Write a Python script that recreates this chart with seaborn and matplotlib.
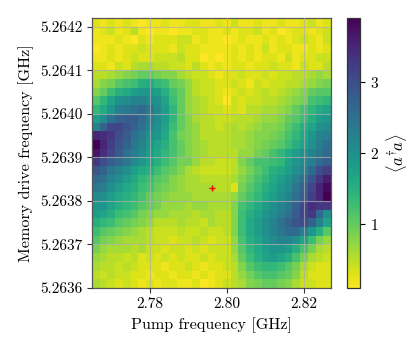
import numpy as np
import matplotlib
matplotlib.use("Agg")
import matplotlib.pyplot as plt
import seaborn as sns

# grid of the scan (cell centres, GHz)
pump_freq = np.round(np.linspace(2.766, 2.826, 31), 4)
drive_freq = np.round(np.linspace(5.26421, 5.26361, 31), 6)  # top row first

# photon number <a^dagger a>, rows from top (high drive freq) to bottom
n_photons = [
    [0.3,0.2,0.3,0.2,0.3,0.2,0.1,0.2,0.2,0.3,0.2,0.2,0.3,0.3,0.2,0.2,0.3,0.2,0.4,0.2,0.2,0.3,0.2,0.2,0.3,0.2,0.2,0.3,0.4,0.2,0.3],
    [0.2,0.3,0.4,0.2,0.3,0.5,0.2,0.1,0.2,0.2,0.1,0.2,0.2,0.3,0.3,0.2,0.2,0.3,0.2,0.3,0.3,0.4,0.2,0.3,0.1,0.2,0.3,0.3,0.2,0.3,0.4],
    [0.2,0.2,0.2,0.3,0.2,0.1,0.3,0.2,0.3,0.3,0.3,0.4,0.4,0.2,0.3,0.2,0.2,0.1,0.2,0.3,0.2,0.2,0.3,0.2,0.3,0.2,0.3,0.4,0.3,0.2,0.4],
    [0.1,0.2,0.3,0.2,0.3,0.3,0.4,0.3,0.3,0.3,0.2,0.4,0.3,0.3,0.2,0.2,0.2,0.2,0.3,0.2,0.3,0.2,0.4,0.2,0.3,0.3,0.2,0.2,0.3,0.2,0.3],
    [0.2,0.2,0.3,0.2,0.3,0.4,0.3,0.3,0.4,0.4,0.4,0.5,0.3,0.3,0.1,0.2,0.1,0.2,0.3,0.2,0.3,0.2,0.3,0.3,0.2,0.4,0.2,0.3,0.3,0.4,0.4],
    [0.3,0.3,0.2,0.4,0.3,0.5,0.6,0.6,0.5,0.5,0.4,0.4,0.3,0.5,0.3,0.2,0.3,0.2,0.3,0.3,0.2,0.3,0.3,0.4,0.3,0.3,0.2,0.4,0.3,0.3,0.5],
    [0.5,0.5,0.6,0.7,0.8,0.9,1.0,1.0,0.9,0.8,0.8,0.6,0.5,0.4,0.4,0.3,0.2,0.3,0.3,0.4,0.3,0.3,0.4,0.3,0.4,0.4,0.5,0.5,0.6,0.7,0.6],
    [0.6,0.8,0.9,1.1,1.2,1.3,1.5,1.6,1.4,1.3,1.0,0.9,0.7,0.5,0.4,0.4,0.3,0.3,0.4,0.3,0.2,0.4,0.3,0.4,0.4,0.5,0.5,0.6,0.7,0.8,0.9],
    [0.8,1.0,1.3,1.5,1.6,1.8,1.9,1.9,1.8,1.5,1.2,1.0,0.7,0.5,0.4,0.4,0.3,0.2,0.3,0.4,0.3,0.4,0.5,0.4,0.5,0.6,0.7,0.8,1.0,1.1,1.1],
    [1.1,1.4,1.7,2.0,2.1,2.2,2.2,2.1,2.0,1.7,1.3,1.0,0.7,0.6,0.5,0.4,0.3,0.1,0.4,0.3,0.4,0.4,0.5,0.5,0.6,0.7,0.8,0.9,1.2,1.3,1.4],
    [1.4,1.6,1.9,2.3,2.4,2.5,2.6,2.4,2.1,1.8,1.4,1.0,0.7,0.6,0.5,0.4,0.4,0.3,0.4,0.3,0.5,0.5,0.6,0.6,0.7,0.8,1.0,1.2,1.4,1.6,1.7],
    [1.8,2.1,2.5,2.7,2.8,2.8,2.6,2.3,2.1,1.8,1.4,1.0,0.8,0.6,0.5,0.5,0.4,0.4,0.5,0.5,0.5,0.6,0.7,0.7,0.8,1.0,1.1,1.3,1.5,1.8,1.9],
    [2.2,2.7,3.1,3.1,2.9,2.7,2.5,2.2,2.0,1.7,1.3,1.0,0.8,0.7,0.5,0.5,0.4,0.5,0.6,0.5,0.6,0.7,0.8,0.8,0.9,1.1,1.3,1.5,1.7,2.0,2.1],
    [3.5,3.4,3.3,3.0,2.8,2.5,2.3,2.0,1.9,1.6,1.2,0.9,0.8,0.7,0.5,0.5,0.5,0.5,0.6,0.6,0.7,0.8,0.8,0.9,1.0,1.2,1.4,1.6,1.9,2.2,2.3],
    [3.9,3.5,3.2,2.9,2.7,2.4,2.2,1.9,1.7,1.5,1.2,1.0,0.8,0.7,0.6,0.5,0.5,0.5,0.6,0.6,0.7,0.8,0.9,1.0,1.1,1.3,1.5,1.7,2.0,2.3,2.5],
    [3.7,3.4,3.1,2.8,2.5,2.3,2.1,1.8,1.6,1.4,1.2,1.0,0.8,0.7,0.6,0.5,0.5,0.5,0.5,0.7,0.7,0.9,1.0,1.2,1.4,1.6,1.8,2.0,2.2,2.4,2.6],
    [3.3,3.0,2.8,2.6,2.4,2.1,1.9,1.7,1.5,1.3,1.1,0.9,0.9,0.7,0.5,0.5,0.4,0.4,0.5,0.8,1.0,1.2,1.2,1.3,1.4,1.7,1.9,2.1,2.3,2.6,2.8],
    [2.9,2.7,2.4,2.2,2.0,1.8,1.6,1.5,1.3,1.1,1.0,0.8,0.6,0.5,0.4,0.4,0.4,0.4,0.5,0.7,0.9,1.1,1.3,1.5,1.6,1.8,2.0,2.2,2.6,3.0,3.2],
    [2.6,2.5,2.2,2.0,1.8,1.6,1.4,1.3,1.1,1.0,0.8,0.7,0.6,0.6,0.5,0.5,0.5,0.5,0.6,0.8,1.0,1.2,1.4,1.6,1.8,2.0,2.2,2.5,2.9,3.3,3.6],
    [2.4,2.3,2.0,1.8,1.6,1.5,1.3,1.2,1.0,0.9,0.8,0.7,0.6,0.6,0.6,0.6,0.5,0.5,0.3,0.9,1.1,1.3,1.5,1.7,1.9,2.1,2.4,2.7,3.1,3.5,3.8],
    [2.1,2.0,1.8,1.6,1.5,1.4,1.2,1.0,0.9,0.8,0.7,0.7,0.7,0.6,0.6,0.6,0.6,0.6,0.7,1.0,1.2,1.4,1.6,1.8,2.0,2.2,2.5,2.8,3.2,3.5,3.9],
    [1.9,1.9,1.7,1.5,1.4,1.3,1.1,1.0,0.9,0.7,0.7,0.7,0.6,0.7,0.7,0.6,0.6,0.6,0.8,1.2,1.4,1.6,1.8,2.0,2.2,2.4,2.7,3.1,3.4,3.3,3.3],
    [1.8,1.7,1.5,1.3,1.2,1.1,0.9,0.8,0.7,0.7,0.6,0.6,0.6,0.5,0.6,0.6,0.5,0.5,0.8,1.3,1.5,1.7,1.9,2.1,2.3,2.5,2.8,3.1,3.3,2.6,2.0],
    [1.5,1.4,1.3,1.1,1.0,0.9,0.8,0.7,0.5,0.5,0.5,0.6,0.5,0.5,0.4,0.6,0.5,0.5,0.8,1.3,1.6,1.8,2.0,2.2,2.5,2.7,2.9,3.0,2.7,2.2,1.7],
    [1.3,1.1,1.0,0.9,0.8,0.7,0.6,0.5,0.4,0.4,0.4,0.5,0.4,0.4,0.5,0.4,0.4,0.5,0.8,1.3,1.6,1.8,2.0,2.2,2.4,2.6,2.6,2.3,1.9,1.5,1.1],
    [1.1,0.9,0.8,0.7,0.6,0.6,0.6,0.5,0.4,0.4,0.3,0.4,0.4,0.5,0.4,0.3,0.4,0.4,0.7,1.2,1.5,1.7,1.9,2.1,2.2,2.2,2.0,1.7,1.3,0.9,0.7],
    [0.9,0.7,0.6,0.6,0.6,0.5,0.6,0.4,0.4,0.3,0.4,0.4,0.3,0.4,0.3,0.4,0.4,0.4,0.7,1.1,1.4,1.6,1.8,1.9,1.9,1.8,1.5,1.2,0.9,0.6,0.5],
    [0.7,0.6,0.5,0.5,0.4,0.5,0.3,0.4,0.3,0.4,0.3,0.4,0.3,0.3,0.4,0.3,0.4,0.4,0.6,1.0,1.3,1.5,1.7,1.8,1.7,1.5,1.2,0.9,0.6,0.5,0.4],
    [0.6,0.5,0.5,0.4,0.5,0.4,0.3,0.3,0.3,0.2,0.3,0.3,0.4,0.3,0.2,0.3,0.3,0.4,0.5,0.8,1.1,1.3,1.4,1.4,1.3,1.1,0.9,0.6,0.4,0.3,0.3],
    [0.5,0.4,0.5,0.4,0.4,0.3,0.3,0.2,0.3,0.3,0.2,0.3,0.3,0.2,0.3,0.2,0.3,0.3,0.5,0.7,0.9,1.1,1.2,1.2,1.1,1.0,0.8,0.5,0.3,0.3,0.3],
    [0.6,0.5,0.4,0.3,0.4,0.3,0.2,0.3,0.2,0.3,0.3,0.2,0.2,0.3,0.1,0.2,0.3,0.4,0.5,0.6,0.8,0.9,1.0,1.0,0.9,0.8,0.6,0.4,0.4,0.3,0.3],
]

x_ticks = [2.78, 2.80, 2.82]
y_ticks = [5.2642, 5.2641, 5.2640, 5.2639, 5.2638, 5.2637, 5.2636]
cbar_ticks = [1, 2, 3]
marker_pump, marker_drive = 2.796, 5.26383

plt.rcParams['font.family'] = 'serif'
plt.rcParams['font.serif'] = ['cmr10']
plt.rcParams['mathtext.fontset'] = 'cm'
plt.rcParams['axes.formatter.use_mathtext'] = True
plt.rcParams['font.size'] = 11

df = np.array(n_photons)

fig = plt.figure(figsize=(4.15, 3.51), dpi=100)
ax = fig.add_axes([0.2217, 0.1795, 0.5759, 0.7692])
cax = fig.add_axes([0.836, 0.1795, 0.0313, 0.7692])

sns.heatmap(df, ax=ax, cbar_ax=cax, cmap='viridis_r', linewidths=0,
            xticklabels=False, yticklabels=False, rasterized=True)

# map frequencies to heatmap cell coordinates
dx = pump_freq[1] - pump_freq[0]
dy = drive_freq[0] - drive_freq[1]
def xpos(f):
    return (np.asarray(f) - (pump_freq[0] - dx / 2)) / dx
def ypos(f):
    return ((drive_freq[0] + dy / 2) - np.asarray(f)) / dy

ax.set_xticks(xpos(x_ticks))
ax.set_xticklabels([f'{t:.2f}' for t in x_ticks], rotation=0)
ax.set_yticks(ypos(y_ticks))
ax.set_yticklabels([f'{t:.4f}' for t in y_ticks], rotation=0)
ax.tick_params(left=True, bottom=True, length=3.5, width=0.8, color='#333333')
ax.grid(True, color='#b0b0b0', linewidth=0.8, alpha=0.7)
ax.set_axisbelow(False)
for s in ax.spines.values():
    s.set_visible(True)
    s.set_color('#555555')
    s.set_linewidth(0.9)

ax.plot(xpos(marker_pump), ypos(marker_drive), '+', color='red', markersize=5, mew=1)

ax.set_xlabel('Pump frequency [GHz]', fontsize=11.6)
ax.set_ylabel('Memory drive frequency [GHz]', fontsize=11.6)

cb = ax.collections[0].colorbar
cb.set_ticks(cbar_ticks)
cb.outline.set_visible(True)
cb.outline.set_edgecolor('#333333')
cb.outline.set_linewidth(0.9)
cax.tick_params(length=3.5, width=0.8)
cb.set_label(r'$\langle a^{\dagger}\!a\rangle$', fontsize=12)

fig.savefig('out.png', dpi=100)
